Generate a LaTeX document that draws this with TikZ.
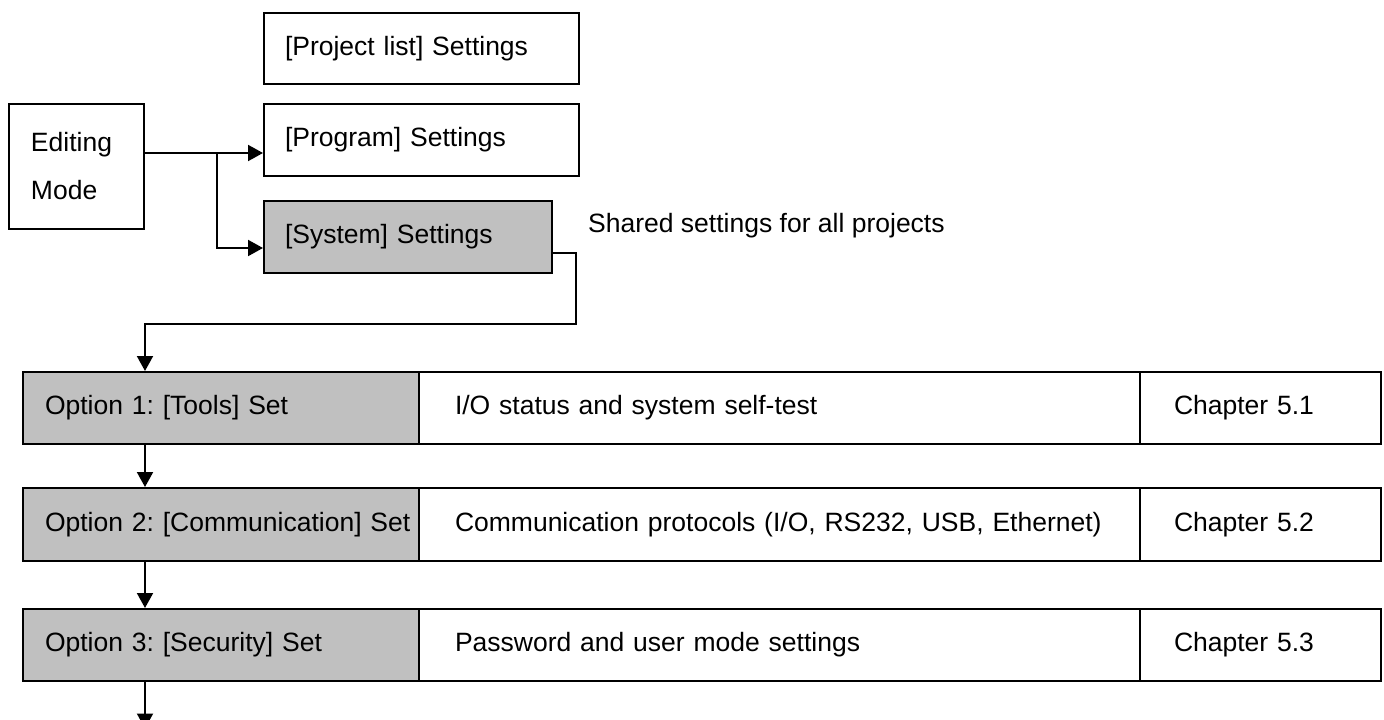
\documentclass[tikz,border=0pt]{standalone}
\usepackage{fontspec}
\setmainfont{Liberation Sans}
\usetikzlibrary{arrows.meta}
\definecolor{boxgray}{HTML}{C0C0C0}
\frenchspacing
\begin{document}
\begin{tikzpicture}[x=1pt,y=-1pt,
  txt/.style={font=\fontsize{26.5}{48}\selectfont},
  box/.style={txt, draw, line width=2pt, inner xsep=0pt, inner ysep=0pt, align=left},
  graybox/.style={box, fill=boxgray},
  arr/.style={line width=2pt, -{Triangle[length=15pt,width=16pt]}},
  conn/.style={line width=2pt}]
\useasboundingbox (0,0) rectangle (1384,720);

% top part
\node[box, text width=135pt, minimum height=125pt] (edit) at (76.5,166.5)
  {\hspace*{22pt}Editing\\\hspace*{22pt}Mode};
\node[box, text width=315pt, minimum height=71pt] (proj) at (421.5,48.5)
  {\hspace*{21pt}[Project list] Settings};
\node[box, text width=315pt, minimum height=72pt] (prog) at (421.5,140)
  {\hspace*{21pt}[Program] Settings};
\node[graybox, text width=288pt, minimum height=72pt] (sys) at (408,237)
  {\hspace*{21pt}[System] Settings};
\node[txt, anchor=base west, inner sep=0pt] (shared) at (588,232)
  {Shared settings for all projects};

% option rows
\node[graybox, text width=396pt, minimum height=72pt] (o1a) at (221,408)
  {\hspace*{22pt}Option 1: [Tools] Set};
\node[box, text width=721pt, minimum height=72pt] (o1b) at (779.5,408)
  {\hspace*{36pt}I/O status and system self-test};
\node[box, text width=241pt, minimum height=72pt] (o1c) at (1260.5,408)
  {\hspace*{34pt}Chapter 5.1};

\node[graybox, text width=396pt, minimum height=73pt] (o2a) at (221,524.5)
  {\hspace*{22pt}Option 2: [Communication] Set};
\node[box, text width=721pt, minimum height=73pt] (o2b) at (779.5,524.5)
  {\hspace*{36pt}Communication protocols (I/O, RS232, USB, Ethernet)};
\node[box, text width=241pt, minimum height=73pt] (o2c) at (1260.5,524.5)
  {\hspace*{34pt}Chapter 5.2};

\node[graybox, text width=396pt, minimum height=72pt] (o3a) at (221,645)
  {\hspace*{22pt}Option 3: [Security] Set};
\node[box, text width=721pt, minimum height=72pt] (o3b) at (779.5,645)
  {\hspace*{36pt}Password and user mode settings};
\node[box, text width=241pt, minimum height=72pt] (o3c) at (1260.5,645)
  {\hspace*{34pt}Chapter 5.3};

% connectors
\coordinate (br) at (217,153);
\coordinate (turn) at (576,324);
\coordinate (endpt) at ([yshift=-562pt]edit.east);

\draw[arr] ([yshift=13.5pt]edit.east) -- ([yshift=13.5pt]edit.east -| prog.west);
\draw[arr] (br) |- ([yshift=-11pt]sys.west);
\draw[arr] ([yshift=-16pt]sys.east) -| (turn) -| (edit.east |- o1a.north);
\draw[arr] (edit.east |- o1a.south) -- (edit.east |- o2a.north);
\draw[arr] (edit.east |- o2a.south) -- (edit.east |- o3a.north);
\draw[arr] (edit.east |- o3a.south) -- (endpt);
\end{tikzpicture}
\end{document}
